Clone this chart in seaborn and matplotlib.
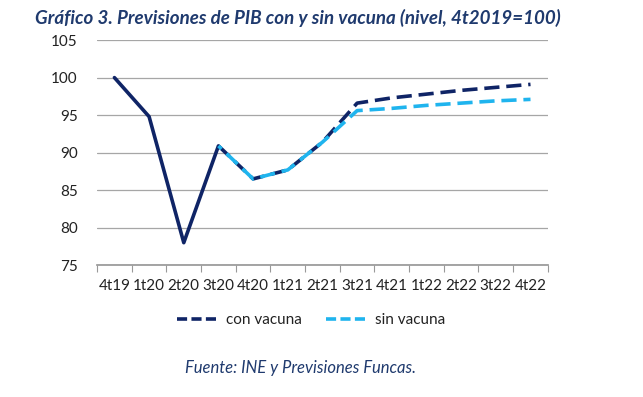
import numpy as np
import pandas as pd
import seaborn as sns
import matplotlib.pyplot as plt

# --- DATA ---
periods = ['4t19', '1t20', '2t20', '3t20', '4t20', '1t21', '2t21',
           '3t21', '4t21', '1t22', '2t22', '3t22', '4t22']
historico = [100.0, 94.8, 78.0, 90.9]
con_vacuna = [90.9, 86.5, 87.7, 91.4, 96.6, 97.3, 97.8, 98.3, 98.7, 99.1]
sin_vacuna = [90.9, 86.5, 87.7, 91.4, 95.6, 95.9, 96.3, 96.6, 96.9, 97.1]

NAVY = '#0f2466'
LIGHT = '#1fb4ee'
TEXT = '#1f3a6e'

sns.set_theme(style='white')
plt.rcParams['font.family'] = ['Lato', 'DejaVu Sans']

hist_df = pd.DataFrame({'x': np.arange(len(historico)), 'y': historico})
start = len(historico) - 1
con_df = pd.DataFrame({'x': np.arange(start, start + len(con_vacuna)), 'y': con_vacuna})
sin_df = pd.DataFrame({'x': np.arange(start, start + len(sin_vacuna)), 'y': sin_vacuna})

fig = plt.figure(figsize=(6.43, 3.97), dpi=100)
ax = fig.add_axes([0.151, 0.332, 0.701, 0.567])

sns.lineplot(data=hist_df, x='x', y='y', ax=ax, color=NAVY, lw=2.6)
sns.lineplot(data=con_df, x='x', y='y', ax=ax, color=NAVY, lw=2.6, label='con vacuna')
sns.lineplot(data=sin_df, x='x', y='y', ax=ax, color=LIGHT, lw=2.6, label='sin vacuna')
# dashed forecasts; light series offset so the navy shows through where they overlap
ax.lines[1].set_linestyle((0, (4.2, 1.9)))
ax.lines[2].set_linestyle((3.0, (4.2, 1.9)))

ax.set_xlim(-0.5, len(periods) - 0.5)
ax.set_ylim(75, 105)
ax.set_yticks(np.arange(75, 106, 5))
ax.set_xticks(np.arange(len(periods)))
ax.set_xticklabels(periods)
ax.set_xticks(np.arange(-0.5, len(periods), 1), minor=True)
ax.tick_params(axis='x', which='major', length=0, pad=10, labelsize=11, labelcolor='#222222')
ax.tick_params(axis='x', which='minor', length=5, width=0.8, color='#999999', bottom=True)
ax.tick_params(axis='y', length=0, pad=14, labelsize=11, labelcolor='#222222')
ax.yaxis.grid(True, color='#a6a6a6', lw=0.9)
ax.set_axisbelow(True)
for s in ['top', 'right', 'left']:
    ax.spines[s].set_visible(False)
ax.spines['bottom'].set_color('#999999')
ax.set_xlabel('')
ax.set_ylabel('')

leg = ax.legend(loc='center', bbox_to_anchor=(0.475, -0.245), ncol=2, frameon=False,
                fontsize=11, handlelength=2.6, columnspacing=1.6, handletextpad=0.6)
for h in leg.get_lines():
    h.set_linestyle((0, (2.8, 1.2)))
for t in leg.get_texts():
    t.set_color('#222222')

fig.text(0.054, 0.955, 'Gráfico 3. Previsiones de PIB con y sin vacuna (nivel, 4t2019=100)',
         fontsize=13.5, fontweight='bold', fontstyle='italic', color=TEXT, va='center')
fig.text(0.468, 0.073, 'Fuente: INE y Previsiones Funcas.', fontsize=12,
         fontstyle='italic', color=TEXT, ha='center', va='center')

fig.savefig('out.png', dpi=100)
